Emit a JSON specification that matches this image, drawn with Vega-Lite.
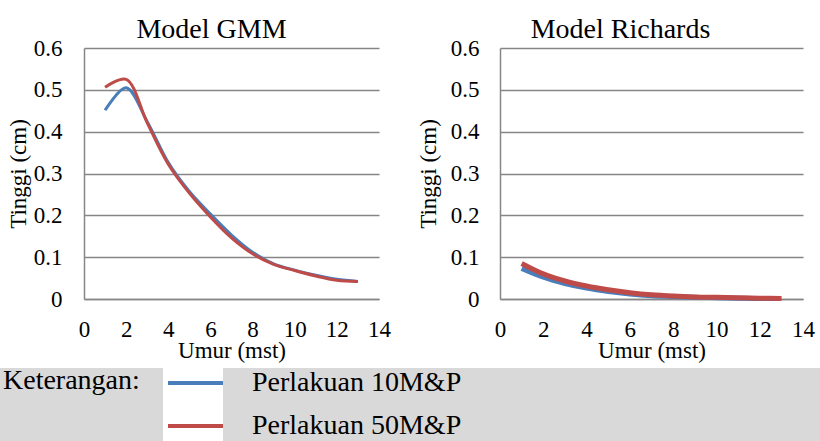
{
  "$schema": "https://vega.github.io/schema/vega-lite/v6.json",
  "padding": {"left": 0, "top": 16, "right": 0, "bottom": 0},
  "background": "white",
  "datasets": {
    "curves": [
      {"model": "GMM", "seri": "Perlakuan 10M&P", "umur": 1, "tinggi": 0.451},
      {"model": "GMM", "seri": "Perlakuan 10M&P", "umur": 2, "tinggi": 0.505},
      {"model": "GMM", "seri": "Perlakuan 10M&P", "umur": 3, "tinggi": 0.424},
      {"model": "GMM", "seri": "Perlakuan 10M&P", "umur": 4, "tinggi": 0.326},
      {"model": "GMM", "seri": "Perlakuan 10M&P", "umur": 5, "tinggi": 0.257},
      {"model": "GMM", "seri": "Perlakuan 10M&P", "umur": 6, "tinggi": 0.203},
      {"model": "GMM", "seri": "Perlakuan 10M&P", "umur": 7, "tinggi": 0.153},
      {"model": "GMM", "seri": "Perlakuan 10M&P", "umur": 8, "tinggi": 0.112},
      {"model": "GMM", "seri": "Perlakuan 10M&P", "umur": 9, "tinggi": 0.084},
      {"model": "GMM", "seri": "Perlakuan 10M&P", "umur": 10, "tinggi": 0.069},
      {"model": "GMM", "seri": "Perlakuan 10M&P", "umur": 11, "tinggi": 0.057},
      {"model": "GMM", "seri": "Perlakuan 10M&P", "umur": 12, "tinggi": 0.047},
      {"model": "GMM", "seri": "Perlakuan 10M&P", "umur": 13, "tinggi": 0.042},
      {"model": "GMM", "seri": "Perlakuan 50M&P", "umur": 1, "tinggi": 0.506},
      {"model": "GMM", "seri": "Perlakuan 50M&P", "umur": 2, "tinggi": 0.525},
      {"model": "GMM", "seri": "Perlakuan 50M&P", "umur": 3, "tinggi": 0.421},
      {"model": "GMM", "seri": "Perlakuan 50M&P", "umur": 4, "tinggi": 0.322},
      {"model": "GMM", "seri": "Perlakuan 50M&P", "umur": 5, "tinggi": 0.253},
      {"model": "GMM", "seri": "Perlakuan 50M&P", "umur": 6, "tinggi": 0.196},
      {"model": "GMM", "seri": "Perlakuan 50M&P", "umur": 7, "tinggi": 0.146},
      {"model": "GMM", "seri": "Perlakuan 50M&P", "umur": 8, "tinggi": 0.108},
      {"model": "GMM", "seri": "Perlakuan 50M&P", "umur": 9, "tinggi": 0.083},
      {"model": "GMM", "seri": "Perlakuan 50M&P", "umur": 10, "tinggi": 0.068},
      {"model": "GMM", "seri": "Perlakuan 50M&P", "umur": 11, "tinggi": 0.055},
      {"model": "GMM", "seri": "Perlakuan 50M&P", "umur": 12, "tinggi": 0.045},
      {"model": "GMM", "seri": "Perlakuan 50M&P", "umur": 13, "tinggi": 0.042},
      {"model": "Richards", "seri": "Perlakuan 10M&P", "umur": 1, "tinggi": 0.073},
      {"model": "Richards", "seri": "Perlakuan 10M&P", "umur": 2, "tinggi": 0.052},
      {"model": "Richards", "seri": "Perlakuan 10M&P", "umur": 3, "tinggi": 0.037},
      {"model": "Richards", "seri": "Perlakuan 10M&P", "umur": 4, "tinggi": 0.026},
      {"model": "Richards", "seri": "Perlakuan 10M&P", "umur": 5, "tinggi": 0.018},
      {"model": "Richards", "seri": "Perlakuan 10M&P", "umur": 6, "tinggi": 0.012},
      {"model": "Richards", "seri": "Perlakuan 10M&P", "umur": 7, "tinggi": 0.008},
      {"model": "Richards", "seri": "Perlakuan 10M&P", "umur": 8, "tinggi": 0.006},
      {"model": "Richards", "seri": "Perlakuan 10M&P", "umur": 9, "tinggi": 0.004},
      {"model": "Richards", "seri": "Perlakuan 10M&P", "umur": 10, "tinggi": 0.003},
      {"model": "Richards", "seri": "Perlakuan 10M&P", "umur": 11, "tinggi": 0.002},
      {"model": "Richards", "seri": "Perlakuan 10M&P", "umur": 12, "tinggi": 0.001},
      {"model": "Richards", "seri": "Perlakuan 10M&P", "umur": 13, "tinggi": 0.001},
      {"model": "Richards", "seri": "Perlakuan 50M&P", "umur": 1, "tinggi": 0.085},
      {"model": "Richards", "seri": "Perlakuan 50M&P", "umur": 2, "tinggi": 0.06},
      {"model": "Richards", "seri": "Perlakuan 50M&P", "umur": 3, "tinggi": 0.043},
      {"model": "Richards", "seri": "Perlakuan 50M&P", "umur": 4, "tinggi": 0.031},
      {"model": "Richards", "seri": "Perlakuan 50M&P", "umur": 5, "tinggi": 0.022},
      {"model": "Richards", "seri": "Perlakuan 50M&P", "umur": 6, "tinggi": 0.015},
      {"model": "Richards", "seri": "Perlakuan 50M&P", "umur": 7, "tinggi": 0.01},
      {"model": "Richards", "seri": "Perlakuan 50M&P", "umur": 8, "tinggi": 0.007},
      {"model": "Richards", "seri": "Perlakuan 50M&P", "umur": 9, "tinggi": 0.005},
      {"model": "Richards", "seri": "Perlakuan 50M&P", "umur": 10, "tinggi": 0.004},
      {"model": "Richards", "seri": "Perlakuan 50M&P", "umur": 11, "tinggi": 0.003},
      {"model": "Richards", "seri": "Perlakuan 50M&P", "umur": 12, "tinggi": 0.002},
      {"model": "Richards", "seri": "Perlakuan 50M&P", "umur": 13, "tinggi": 0.001}
    ],
    "band": [{"part": "a"}]
  },
  "config": {
    "view": {"stroke": null},
    "font": "Liberation Serif",
    "axis": {"titleFontWeight": "normal"},
    "style": {"guide-title": {"fontWeight": "normal", "font": "Liberation Serif"}},
    "title": {"font": "Liberation Serif", "fontSize": 28, "fontWeight": "normal", "color": "black"}
  },
  "spacing": 6,
  "vconcat": [
    {
      "spacing": 6,
      "hconcat": [
        {"width": 1, "height": 251, "data": {"name": "band"}, "mark": {"type": "rect", "opacity": 0}, "encoding": {}},
        {
          "spacing": 25,
          "hconcat": [
            {
              "width": 295, "height": 251,
              "title": {"text": "Model GMM", "frame": "group", "dx": -20, "offset": -7},
              "data": {"name": "curves"},
              "transform": [{"filter": "datum.model == 'GMM'"}],
              "mark": {"type": "line", "strokeWidth": 3, "interpolate": "catmull-rom"},
              "encoding": {
                "x": {"field": "umur", "type": "quantitative", "scale": {"domain": [0, 14], "nice": false},
                  "axis": {"values": [0, 2, 4, 6, 8, 10, 12, 14], "title": "Umur (mst)", "grid": false, "ticks": false, "domainColor": "#868686", "domainWidth": 1.5, "labelFont": "Liberation Serif", "labelFontSize": 23, "labelColor": "black", "titleFont": "Liberation Serif", "titleFontSize": 23, "titleFontWeight": "normal", "titleColor": "black", "labelPadding": 19, "titlePadding": -2, "labelFlush": false, "labelOverlap": false}},
                "y": {"field": "tinggi", "type": "quantitative", "scale": {"domain": [0, 0.6], "nice": false},
                  "axis": {"values": [0, 0.1, 0.2, 0.3, 0.4, 0.5, 0.6], "format": ".1~f", "title": "Tinggi (cm)", "ticks": false, "grid": true, "gridColor": "#868686", "gridWidth": 1.5, "domainColor": "#868686", "domainWidth": 1.5, "labelFont": "Liberation Serif", "labelFontSize": 23, "labelColor": "black", "titleFont": "Liberation Serif", "titleFontSize": 23, "titleFontWeight": "normal", "titleColor": "black", "labelPadding": 22, "titleX": -58.5, "titleY": 125.5, "titleAngle": -90, "titleBaseline": "alphabetic", "titleAlign": "center"}},
                "color": {"field": "seri", "type": "nominal",
                  "scale": {"domain": ["Perlakuan 10M&P", "Perlakuan 50M&P"], "range": ["#4a7ebb", "#be4b48"]},
                  "legend": {"orient": "none", "legendX": 3, "legendY": 319, "title": "Keterangan:", "titleOrient": "left", "titleAnchor": "start", "titleBaseline": "top", "titleFont": "Liberation Serif", "titleFontSize": 28, "titleFontWeight": "normal", "titleColor": "black", "titlePadding": 26, "titleLimit": 0, "labelFont": "Liberation Serif", "labelFontSize": 28, "labelColor": "black", "labelLimit": 0, "symbolType": "M-1,0H2.93", "symbolSize": 784, "symbolStrokeWidth": 4, "labelOffset": 54, "rowPadding": 13, "padding": 0}}
              }
            },
            {
              "width": 303, "height": 251,
              "title": {"text": "Model Richards", "frame": "group", "dx": -31, "offset": -7},
              "data": {"name": "curves"},
              "transform": [{"filter": "datum.model == 'Richards'"}],
              "mark": {"type": "line", "strokeWidth": 5, "interpolate": "catmull-rom"},
              "encoding": {
                "x": {"field": "umur", "type": "quantitative", "scale": {"domain": [0, 14], "nice": false},
                  "axis": {"values": [0, 2, 4, 6, 8, 10, 12, 14], "title": "Umur (mst)", "grid": false, "ticks": false, "domainColor": "#868686", "domainWidth": 1.5, "labelFont": "Liberation Serif", "labelFontSize": 23, "labelColor": "black", "titleFont": "Liberation Serif", "titleFontSize": 23, "titleFontWeight": "normal", "titleColor": "black", "labelPadding": 19, "titlePadding": -2, "labelFlush": false, "labelOverlap": false}},
                "y": {"field": "tinggi", "type": "quantitative", "scale": {"domain": [0, 0.6], "nice": false},
                  "axis": {"values": [0, 0.1, 0.2, 0.3, 0.4, 0.5, 0.6], "format": ".1~f", "title": "Tinggi (cm)", "ticks": false, "grid": true, "gridColor": "#868686", "gridWidth": 1.5, "domainColor": "#868686", "domainWidth": 1.5, "labelFont": "Liberation Serif", "labelFontSize": 23, "labelColor": "black", "titleFont": "Liberation Serif", "titleFontSize": 23, "titleFontWeight": "normal", "titleColor": "black", "labelPadding": 21, "titleX": -65, "titleY": 125.5, "titleAngle": -90, "titleBaseline": "alphabetic", "titleAlign": "center"}},
                "color": {"field": "seri", "type": "nominal",
                  "scale": {"domain": ["Perlakuan 10M&P", "Perlakuan 50M&P"], "range": ["#4a7ebb", "#be4b48"]},
                  "legend": {"orient": "none", "legendX": 3, "legendY": 319, "title": "Keterangan:", "titleOrient": "left", "titleAnchor": "start", "titleBaseline": "top", "titleFont": "Liberation Serif", "titleFontSize": 28, "titleFontWeight": "normal", "titleColor": "black", "titlePadding": 26, "titleLimit": 0, "labelFont": "Liberation Serif", "labelFontSize": 28, "labelColor": "black", "labelLimit": 0, "symbolType": "M-1,0H2.93", "symbolSize": 784, "symbolStrokeWidth": 4, "labelOffset": 54, "rowPadding": 13, "padding": 0}}
              }
            }
          ]
        }
      ]
    },
    {
      "spacing": 0,
      "hconcat": [
        {"width": 163, "height": 74, "data": {"name": "band"}, "mark": {"type": "rect", "color": "#d9d9d9"}, "encoding": {}},
        {"width": 60, "height": 74, "data": {"name": "band"}, "mark": {"type": "rect", "color": "#ffffff"}, "encoding": {}},
        {"width": 597, "height": 74, "data": {"name": "band"}, "mark": {"type": "rect", "color": "#d9d9d9"}, "encoding": {}}
      ]
    }
  ]
}
